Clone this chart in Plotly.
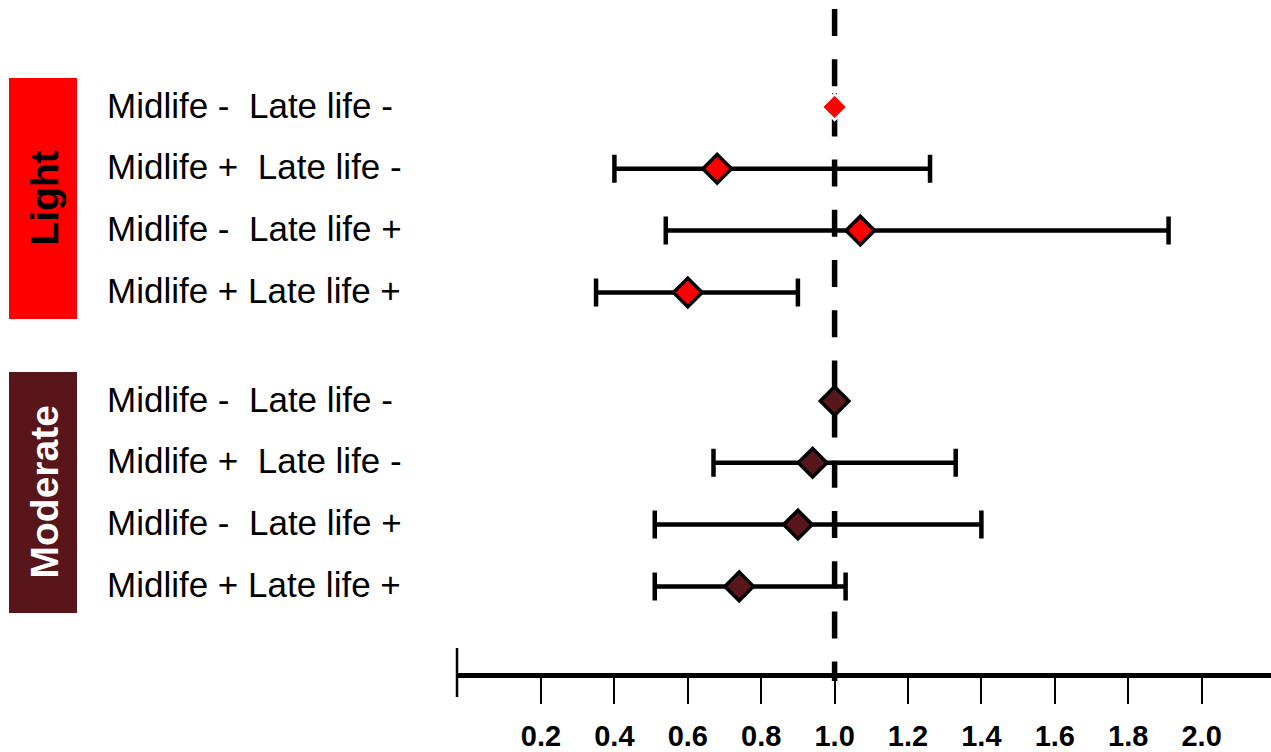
import plotly.graph_objects as go

# ---------------- data ----------------
groups = ["Light", "Moderate"]
row_labels = [
    "Midlife -\u00a0 Late life -",
    "Midlife +\u00a0 Late life -",
    "Midlife -\u00a0 Late life +",
    "Midlife + Late life +",
]
light_est = [1.00, 0.68, 1.07, 0.60]
light_lo = [1.00, 0.40, 0.54, 0.35]
light_hi = [1.00, 1.26, 1.91, 0.90]
moderate_est = [1.00, 0.94, 0.90, 0.74]
moderate_lo = [1.00, 0.67, 0.51, 0.51]
moderate_hi = [1.00, 1.33, 1.40, 1.03]
tick_vals = [0.2, 0.4, 0.6, 0.8, 1.0, 1.2, 1.4, 1.6, 1.8, 2.0]
tick_labels = ["0.2", "0.4", "0.6", "0.8", "1.0", "1.2", "1.4", "1.6", "1.8", "2.0"]
reference_value = 1.0

# ---------------- styling ----------------
W, H = 1271, 752
ROW_PX = 61.8
FIRST_ROW_PX = 107
AXIS_PX = 673
GROUP_OFFSET = 4.757  # row units between first rows of groups
X_START_PX = 457
PX_PER_UNIT = 367.0
ONE_PX = 834.6

group_fill = {"Light": "#ff0000", "Moderate": "#5a171b"}
group_box = {"Light": "#ff0000", "Moderate": "#58161a"}
group_text = {"Light": "black", "Moderate": "white"}
FONT = "Liberation Sans, Arial, sans-serif"

series = {
    "Light": (light_est, light_lo, light_hi),
    "Moderate": (moderate_est, moderate_lo, moderate_hi),
}

x_range = [1 - (ONE_PX - X_START_PX) / PX_PER_UNIT, 1 + (W - ONE_PX) / PX_PER_UNIT]
y_range = [(AXIS_PX - FIRST_ROW_PX) / ROW_PX, -FIRST_ROW_PX / ROW_PX]
y_dom0 = (H - AXIS_PX) / H

fig = go.Figure()
annotations = []
shapes = []

for gi, g in enumerate(groups):
    est, lo, hi = series[g]
    ypos = [gi * GROUP_OFFSET + i for i in range(len(est))]
    is_ref = [(h == e and l == e) for e, l, h in zip(est, lo, hi)]
    plus = [None if r else (h - e) for e, h, r in zip(est, hi, is_ref)]
    minus = [None if r else (e - l) for e, l, r in zip(est, lo, is_ref)]
    if g == "Light":
        sizes = [20 if r else 22 for r in is_ref]
        lcol = ["white" if r else "black" for r in is_ref]
        lw = [2.5 if r else 3.5 for r in is_ref]
    else:
        sizes = [22 for r in is_ref]
        lcol = ["black" for r in is_ref]
        lw = [3.5 for r in is_ref]
    fig.add_trace(go.Scatter(
        x=est, y=ypos, mode="markers",
        marker=dict(symbol="diamond", size=sizes, color=group_fill[g], opacity=1,
                    line=dict(color=lcol, width=lw)),
        error_x=dict(type="data", symmetric=False, array=plus, arrayminus=minus,
                     color="black", thickness=4.5, width=14),
        showlegend=False, hoverinfo="skip", cliponaxis=False, opacity=1,
    ))
    for i, lab in enumerate(row_labels):
        annotations.append(dict(
            x=105 / W, xref="paper", y=ypos[i] - 0.03, yref="y", text=lab,
            showarrow=False, xanchor="left", yanchor="middle",
            font=dict(family=FONT, size=35, color="black"),
        ))
    y0 = gi * GROUP_OFFSET - 0.469
    y1 = gi * GROUP_OFFSET + 3.43
    shapes.append(dict(type="rect", xref="paper", yref="y", x0=9 / W, x1=77 / W,
                       y0=y0, y1=y1, fillcolor=group_box[g], line=dict(width=0),
                       layer="below"))
    annotations.append(dict(
        x=44 / W, xref="paper", y=(y0 + y1) / 2, yref="y", text="<b>%s</b>" % g,
        textangle=-90, showarrow=False, xanchor="center", yanchor="middle",
        font=dict(family=FONT, size=39, color=group_text[g]),
    ))

# reference dashed line at 1.0
shapes.append(dict(type="line", xref="x", yref="paper", x0=reference_value, x1=reference_value,
                   y0=1 - 9 / H, y1=1 - 681 / H,
                   line=dict(color="black", width=5.5, dash="27px,23.2px"), layer="below"))
# left end tick of the axis
shapes.append(dict(type="line", xref="paper", yref="paper", x0=X_START_PX / W, x1=X_START_PX / W,
                   y0=1 - 648 / H, y1=1 - 697 / H,
                   line=dict(color="black", width=2.5)))

fig.update_layout(
    width=W, height=H, autosize=False,
    margin=dict(l=0, r=0, t=0, b=0),
    paper_bgcolor="white", plot_bgcolor="white",
    xaxis=dict(domain=[X_START_PX / W, 1], range=x_range, showgrid=False, zeroline=False,
               showline=True, linecolor="black", linewidth=4.5,
               ticks="outside", ticklen=26, tickwidth=2, tickcolor="black",
               tickvals=tick_vals, ticktext=["<b>%s</b>" % t for t in tick_labels],
               ticklabelstandoff=7,
               tickfont=dict(family=FONT, size=29, color="black"), fixedrange=True),
    yaxis=dict(domain=[y_dom0, 1], range=y_range, visible=False, fixedrange=True),
    annotations=annotations, shapes=shapes,
)

fig.write_html("out.html")
